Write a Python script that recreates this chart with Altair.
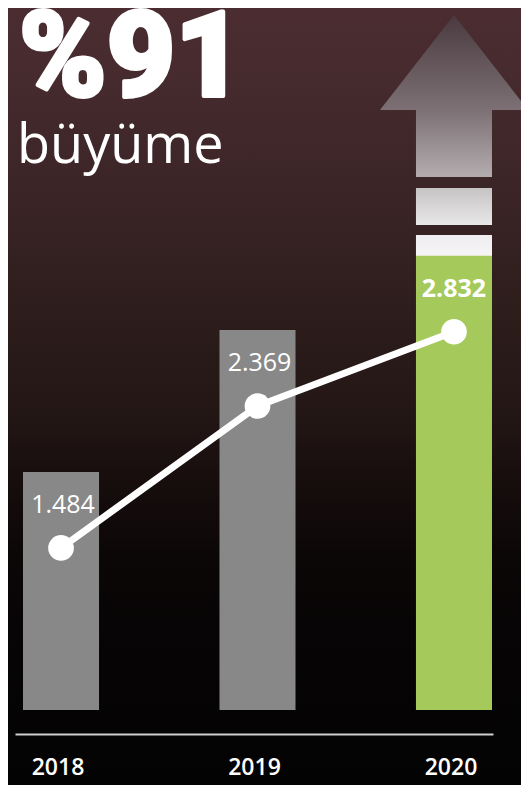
import altair as alt
import pandas as pd

# ---- data ----
years = ["2018", "2019", "2020"]
values = [1.484, 2.369, 2.832]
value_labels = ["1.484", "2.369", "2.832"]
highlight_year = "2020"

# arrow annotation above the last bar (data units, thousands)
arrow_head_base = [3.741]
arrow_block_lo = [3.024, 2.830]
arrow_block_hi = [3.254, 2.961]

title_main = "%91"
title_sub = "büyüme"

df = pd.DataFrame({"year": years, "value": values, "label": value_labels})
df["hl"] = df["year"] == highlight_year
head_df = pd.DataFrame({"year": [highlight_year], "value": arrow_head_base})
blk1_df = pd.DataFrame({"year": [highlight_year], "lo": arrow_block_lo[:1], "hi": arrow_block_hi[:1]})
blk2_df = pd.DataFrame({"year": [highlight_year], "lo": arrow_block_lo[1:], "hi": arrow_block_hi[1:]})
one = pd.DataFrame({"k": [0]})

W, H, PB = 513, 726, 51

x_enc = alt.X(
    "year:N",
    scale=alt.Scale(domain=years, range=[7, 485], paddingInner=0.613,
                    paddingOuter=0.0229, align=0.889),
    axis=alt.Axis(orient="bottom", ticks=False, grid=False, zindex=1,
                  domainColor="#d0d0d0", domainWidth=2, labelAngle=0,
                  labelColor="white", labelFont="Open Sans", labelFontSize=23,
                  labelFontWeight=600, labelPadding=22, labelOffset=-3, title=None),
)
y_scale = alt.Scale(domain=[0, 4.3766], range=[702, 0])


def grad(stops):
    return alt.Gradient(gradient="linear", x1=0, x2=0, y1=0, y2=1,
                        stops=[alt.GradientStop(offset=o, color=c) for o, c in stops])


bg = alt.Chart(one).mark_rect(
    fill=grad([(0, "#4b2d31"), (0.1, "#452a2e"), (0.25, "#3a2426"), (0.38, "#2e1e1c"),
               (0.53, "#221615"), (0.6, "#180e0e"), (0.7, "#0c0707"), (0.83, "#060405"),
               (1, "#040303")])
).encode(x=alt.value(0), x2=alt.value(W), y=alt.value(0), y2=alt.value(H + PB))

arrow_path = "M0,-1.284L1,0L0.5135,0L0.5135,0.905L-0.5135,0.905L-0.5135,0L-1,0Z"
head = alt.Chart(head_df).mark_point(
    shape=arrow_path, size=21904, filled=True, opacity=1, strokeWidth=0,
    fill=grad([(0, "#4a3a40"), (0.59, "#7d7175"), (1, "#b4adaf")]),
).encode(x=x_enc, y=alt.Y("value:Q", scale=y_scale, axis=None))

blk1 = alt.Chart(blk1_df).mark_bar(
    fill=grad([(0, "#c6c3c4"), (1, "#e9e8e8")])
).encode(x=x_enc, y=alt.Y("lo:Q", scale=y_scale, axis=None), y2="hi:Q")

blk2 = alt.Chart(blk2_df).mark_bar(
    fill=grad([(0, "#efedef"), (1, "#f6f5f6")])
).encode(x=x_enc, y=alt.Y("lo:Q", scale=y_scale, axis=None), y2="hi:Q")

base = alt.Chart(df)
bars = base.mark_bar().encode(
    x=x_enc,
    y=alt.Y("value:Q", scale=y_scale, axis=None),
    color=alt.condition("datum.hl", alt.value("#a5c95a"), alt.value("#888888")),
)

line = base.mark_line(color="white", strokeWidth=7, yOffset=76).encode(
    x=x_enc, y=alt.Y("value:Q", scale=y_scale, axis=None))
pts = base.mark_circle(size=660, color="white", opacity=1, yOffset=76).encode(
    x=x_enc, y=alt.Y("value:Q", scale=y_scale, axis=None))

lab_norm = base.transform_filter("!datum.hl").mark_text(
    color="white", font="Open Sans", fontSize=25, baseline="middle", dy=33, dx=2
).encode(x=x_enc, y=alt.Y("value:Q", scale=y_scale, axis=None), text="label:N")
lab_hl = base.transform_filter("datum.hl").mark_text(
    color="white", font="Open Sans", fontSize=25, fontWeight="bold", baseline="middle", dy=33
).encode(x=x_enc, y=alt.Y("value:Q", scale=y_scale, axis=None), text="label:N")

t1 = alt.Chart(one).mark_text(
    text=title_main, color="white", stroke="white", strokeWidth=4, strokeJoin="round",
    font="Roboto", fontWeight=900, fontSize=118,
    align="left", baseline="alphabetic"
).encode(x=alt.value(11), y=alt.value(88))
t2 = alt.Chart(one).mark_text(
    text=title_sub, color="white", font="Open Sans", fontSize=54,
    align="left", baseline="alphabetic"
).encode(x=alt.value(9), y=alt.value(155))

chart = alt.layer(bg, head, blk1, blk2, bars, line, pts, lab_norm, lab_hl, t1, t2).properties(
    width=W, height=H,
    padding={"left": 0, "top": 0, "right": 0, "bottom": PB},
    autosize=alt.AutoSizeParams(type="none"),
    background="#040303",
).configure_view(stroke=None)

chart.save("out.html", embed_options={"renderer": "svg", "actions": False})
